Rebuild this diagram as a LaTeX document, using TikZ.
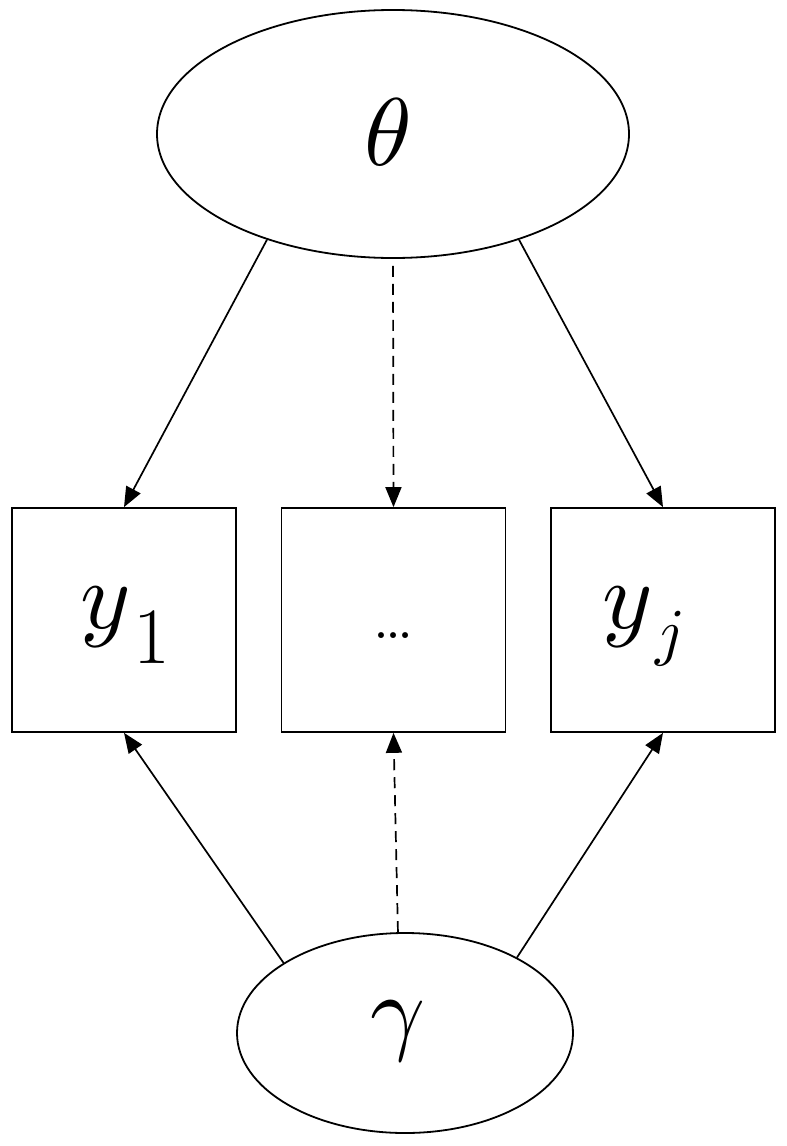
\documentclass[tikz,border=0pt]{standalone}
\usepackage{unicode-math}
\usetikzlibrary{shapes.geometric,arrows.meta}
\tikzset{
  oval/.style={ellipse, draw, line width=1.8pt, inner sep=0pt},
  obsbox/.style={rectangle, draw, line width=1.7pt, minimum width=224pt, minimum height=224pt, inner sep=0pt},
  arr/.style={line width=1.7pt, -{Triangle[length=20pt,width=16pt]}},
  dsh/.style={dash pattern=on 11pt off 7pt},
  bigtxt/.style={font=\fontsize{96}{96}\selectfont, inner sep=0pt}
}
\begin{document}
\begin{tikzpicture}[x=1pt,y=-1pt]
\useasboundingbox (0,0) rectangle (787,1146);
\node[oval, minimum width=472pt, minimum height=248pt] (theta) at (393,134) {};
\node[bigtxt] (thetat) at (388,132) {$\theta$};
\node[oval, minimum width=336pt, minimum height=200pt] (gamma) at (405,1033) {};
\node[bigtxt] (gammat) at (398,1032) {$\gamma$};
\node[obsbox] (y1) at (124,620) {};
\node[obsbox] (mid) at (393.5,620) {};
\node[obsbox] (yj) at (663,620) {};
\node[inner sep=0pt, anchor=base west] (y1t) at (80,628) {\fontsize{96}{96}\selectfont$y$\hspace{4pt}\raisebox{-35pt}{\fontsize{80}{80}\selectfont 1}};
\node[inner sep=0pt, anchor=base] (midt) at (394,638) {\fontsize{72}{72}\selectfont\ldots};
\node[inner sep=0pt, anchor=base west] (yjt) at (602,628) {\fontsize{96}{96}\selectfont$y$\hspace{4pt}\raisebox{-25pt}{\fontsize{64}{64}\selectfont$j$}};
\draw[arr] (theta.220) -- (y1.north);
\draw[arr] (theta.320) -- (yj.north);
\draw[arr,dsh] ([yshift=-7pt]theta.south) -- (mid.north);
\draw[arr] (gamma.150) -- (y1.south);
\draw[arr] (gamma.34) -- (yj.south);
\draw[arr,dsh] (gamma.94) -- (mid.south);
\end{tikzpicture}
\end{document}
